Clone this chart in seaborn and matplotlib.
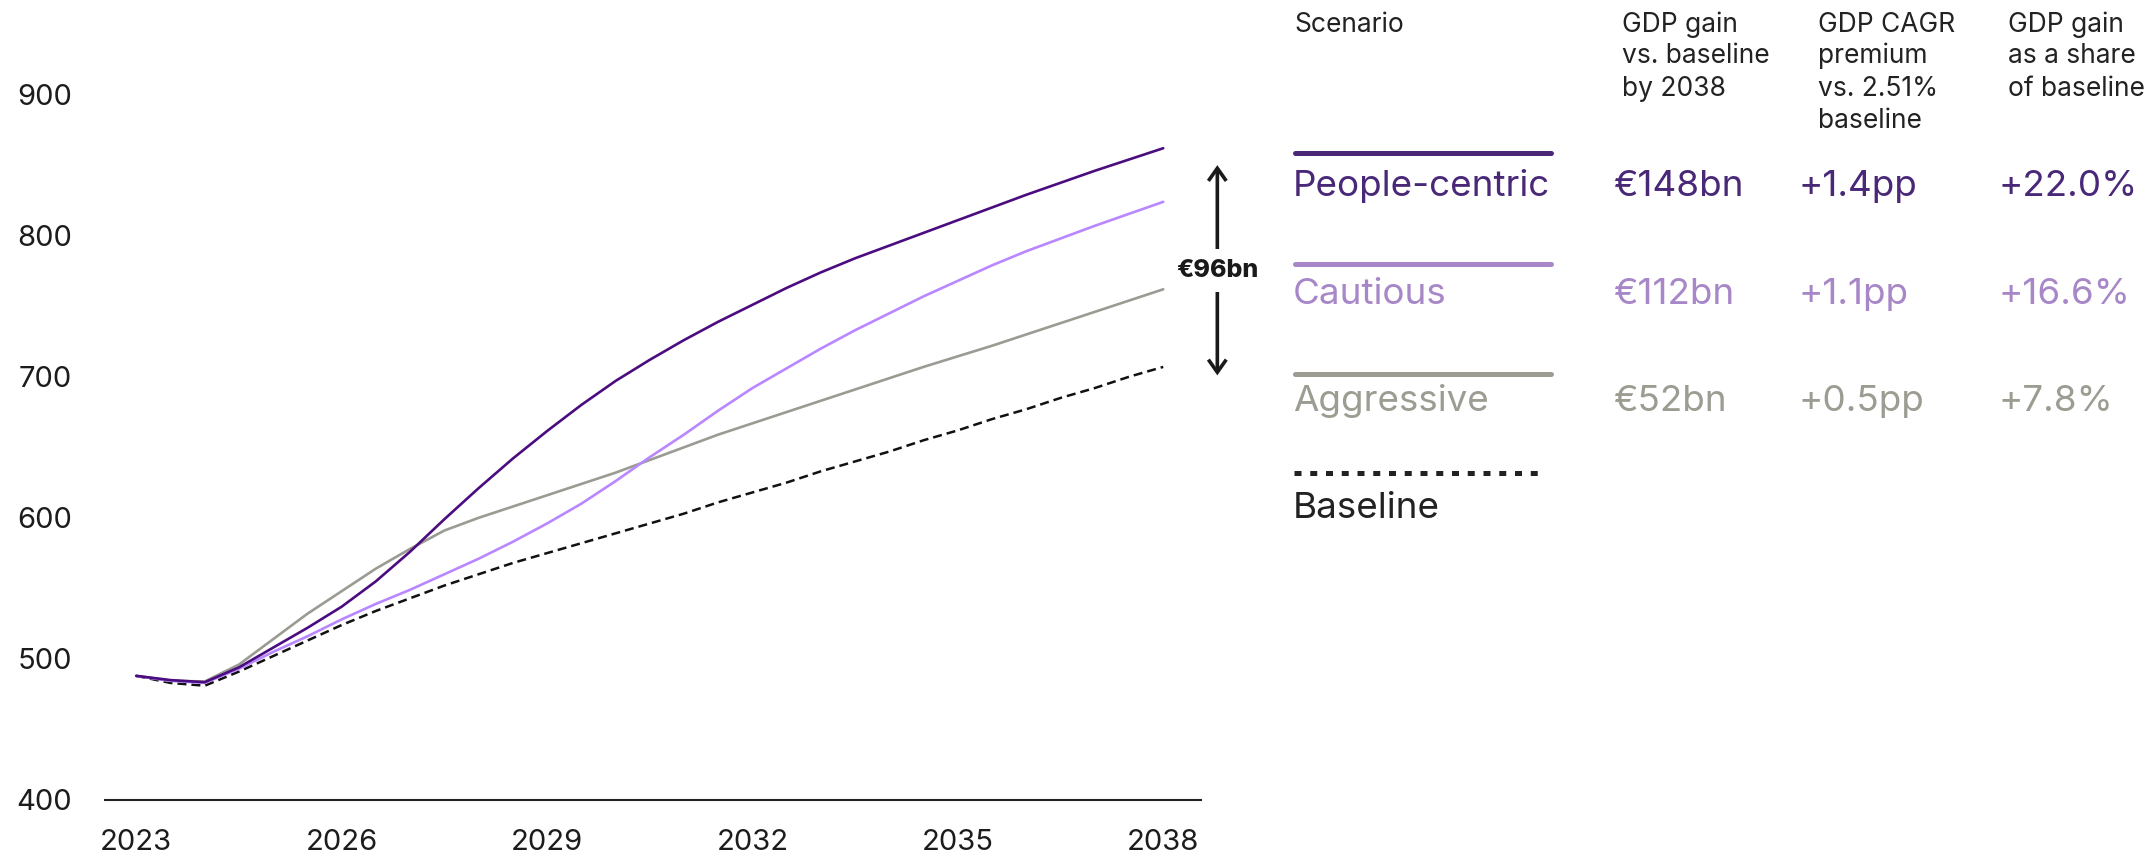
import matplotlib
matplotlib.use("Agg")
import matplotlib.pyplot as plt
from matplotlib.lines import Line2D
import numpy as np
import pandas as pd
import seaborn as sns

# ---- data (GDP, € bn) -------------------------------------------------------
years = [2023.0, 2023.5, 2024.0, 2024.5, 2025.0, 2025.5, 2026.0, 2026.5,
         2027.0, 2027.5, 2028.0, 2028.5, 2029.0, 2029.5, 2030.0, 2030.5,
         2031.0, 2031.5, 2032.0, 2032.5, 2033.0, 2033.5, 2034.0, 2034.5,
         2035.0, 2035.5, 2036.0, 2036.5, 2037.0, 2037.5, 2038.0]

baseline = [488, 483, 481, 491, 502, 513, 524, 534,
            543, 552, 560, 568, 575, 582, 589, 596,
            603, 611, 618, 625, 633, 640, 647, 655,
            662, 670, 677, 685, 692, 700, 707]

people_centric = [488, 485, 483.5, 494, 508, 522, 537, 555,
                  576, 599, 621, 642, 661.5, 680, 697, 712,
                  726, 739, 751, 763, 774, 784, 793, 802,
                  811, 820, 829, 837.5, 846, 854, 862]

cautious = [488, 484.5, 483, 493, 505, 516, 528, 539,
            549, 560, 571, 583, 596, 610, 626, 643,
            659, 676, 692, 706, 720, 733, 745, 757,
            768, 779, 789, 798, 807, 815.5, 824]

aggressive = [488, 484.5, 484, 496, 514, 532, 548, 564,
              578, 591, 600, 608, 616, 624, 632, 641,
              650, 659, 667, 675, 683, 691, 699, 707,
              714.5, 722, 730, 738, 746, 754, 762]

scenarios = ["People-centric", "Cautious", "Aggressive"]
gain_vs_baseline = ["€148bn", "€112bn", "€52bn"]
cagr_premium = ["+1.4pp", "+1.1pp", "+0.5pp"]
share_of_baseline = ["+22.0%", "+16.6%", "+7.8%"]
gap_label = "€96bn"

y_ticks = [400, 500, 600, 700, 800, 900]
x_ticks = [2023, 2026, 2029, 2032, 2035, 2038]

# ---- styling ----------------------------------------------------------------
sns.set_theme(style="white")
plt.rcParams["font.family"] = ["Inter", "DejaVu Sans"]

line_colors = {"People-centric": "#4B0C80", "Cautious": "#B987FF",
               "Aggressive": "#9A9B92", "Baseline": "#111111"}
table_colors = {"People-centric": "#4A2878", "Cautious": "#A787C7",
                "Aggressive": "#9C9C92", "Baseline": "#222222"}
ink = "#1c1c1c"

W, H = 2147, 861
fig = plt.figure(figsize=(W / 100, H / 100), dpi=100)
fig.patch.set_facecolor("white")

ax = fig.add_axes([105.4 / W, 1 - 800 / H, 1095.5 / W, 733.6 / H])
ax.set_facecolor("white")

df = pd.DataFrame({"year": years, "Baseline": baseline,
                   "Aggressive": aggressive, "Cautious": cautious,
                   "People-centric": people_centric})

sns.lineplot(data=df, x="year", y="Baseline", ax=ax,
             color=line_colors["Baseline"], linewidth=1.8,
             linestyle=(0, (3.6, 2.0)))
for name in ["Aggressive", "Cautious", "People-centric"]:
    sns.lineplot(data=df, x="year", y=name, ax=ax,
                 color=line_colors[name], linewidth=1.9,
                 solid_capstyle="round", solid_joinstyle="round")

ax.set_xlim(2022.55, 2038.55)
ax.set_ylim(400, 920)
ax.set_xticks(x_ticks)
ax.set_yticks(y_ticks)
ax.set_xticklabels([str(t) for t in x_ticks])
ax.set_yticklabels([str(t) for t in y_ticks])
ax.set_xlabel("")
ax.set_ylabel("")
ax.tick_params(axis="y", length=0, pad=24, labelsize=21, labelcolor=ink)
ax.tick_params(axis="x", length=0, pad=21, labelsize=21, labelcolor=ink)
for side in ["top", "right", "left"]:
    ax.spines[side].set_visible(False)
ax.spines["bottom"].set_color("#222222")
ax.spines["bottom"].set_linewidth(1.5)
ax.grid(False)

# ---- gap annotation between people-centric and baseline in 2038 -------------
arrow_x = 2038.79
top_val = people_centric[-1] - 12
bottom_val = baseline[-1] - 6
ax.annotate("", xy=(arrow_x, top_val), xytext=(arrow_x, bottom_val),
            xycoords="data", textcoords="data", annotation_clip=False,
            arrowprops=dict(arrowstyle="<->,head_length=0.65,head_width=0.46",
                            mutation_scale=14, color="#1a1a1a", lw=2.6,
                            shrinkA=0, shrinkB=0, joinstyle="miter",
                            capstyle="butt"))
ax.text(arrow_x, (top_val + bottom_val) / 2, gap_label, ha="center",
        va="center", fontsize=18, fontweight="heavy", color="#1a1a1a",
        clip_on=False, zorder=5,
        bbox=dict(boxstyle="square,pad=0.4", fc="white", ec="none"))

# ---- scenario table ---------------------------------------------------------
def fx(px):
    return px / W


def fy(py):
    return 1 - py / H


head_size = 19
col_x = [1294.6, 1622, 1818, 2008]
head_lines = [["Scenario"],
              ["GDP gain", "vs. baseline", "by 2038"],
              ["GDP CAGR", "premium", "vs. 2.51%", "baseline"],
              ["GDP gain", "as a share", "of baseline"]]
head_baselines = [31.7, 63.3, 95.5, 128]
for cx, lines in zip(col_x, head_lines):
    for i, txt in enumerate(lines):
        fig.text(fx(cx), fy(head_baselines[i]), txt, fontsize=head_size,
                 color="#222222", ha="left", va="baseline")

row_size = 26.5
bar_y = [153, 264, 374]
text_y = [196, 304, 411]
val_x = [1613, 1798, 1999]
for i, name in enumerate(scenarios):
    c = table_colors[name]
    fig.add_artist(Line2D([fx(1295), fx(1551)], [fy(bar_y[i])] * 2,
                          transform=fig.transFigure, color=c, linewidth=3.6,
                          solid_capstyle="round"))
    fig.text(fx(1293), fy(text_y[i]), name, fontsize=row_size, color=c,
             ha="left", va="baseline")
    for vx, val in zip(val_x, [gain_vs_baseline[i], cagr_premium[i],
                               share_of_baseline[i]]):
        fig.text(fx(vx), fy(text_y[i]), val, fontsize=row_size, color=c,
                 ha="left", va="baseline")

fig.add_artist(Line2D([fx(1294), fx(1546)], [fy(473)] * 2,
                      transform=fig.transFigure, color="#222222",
                      linewidth=3.6, linestyle=(0, (1.4, 1.75)),
                      dash_capstyle="butt"))
fig.text(fx(1293), fy(518), "Baseline", fontsize=row_size,
         color=table_colors["Baseline"], ha="left", va="baseline")

fig.savefig("out.png", dpi=100, facecolor="white")
